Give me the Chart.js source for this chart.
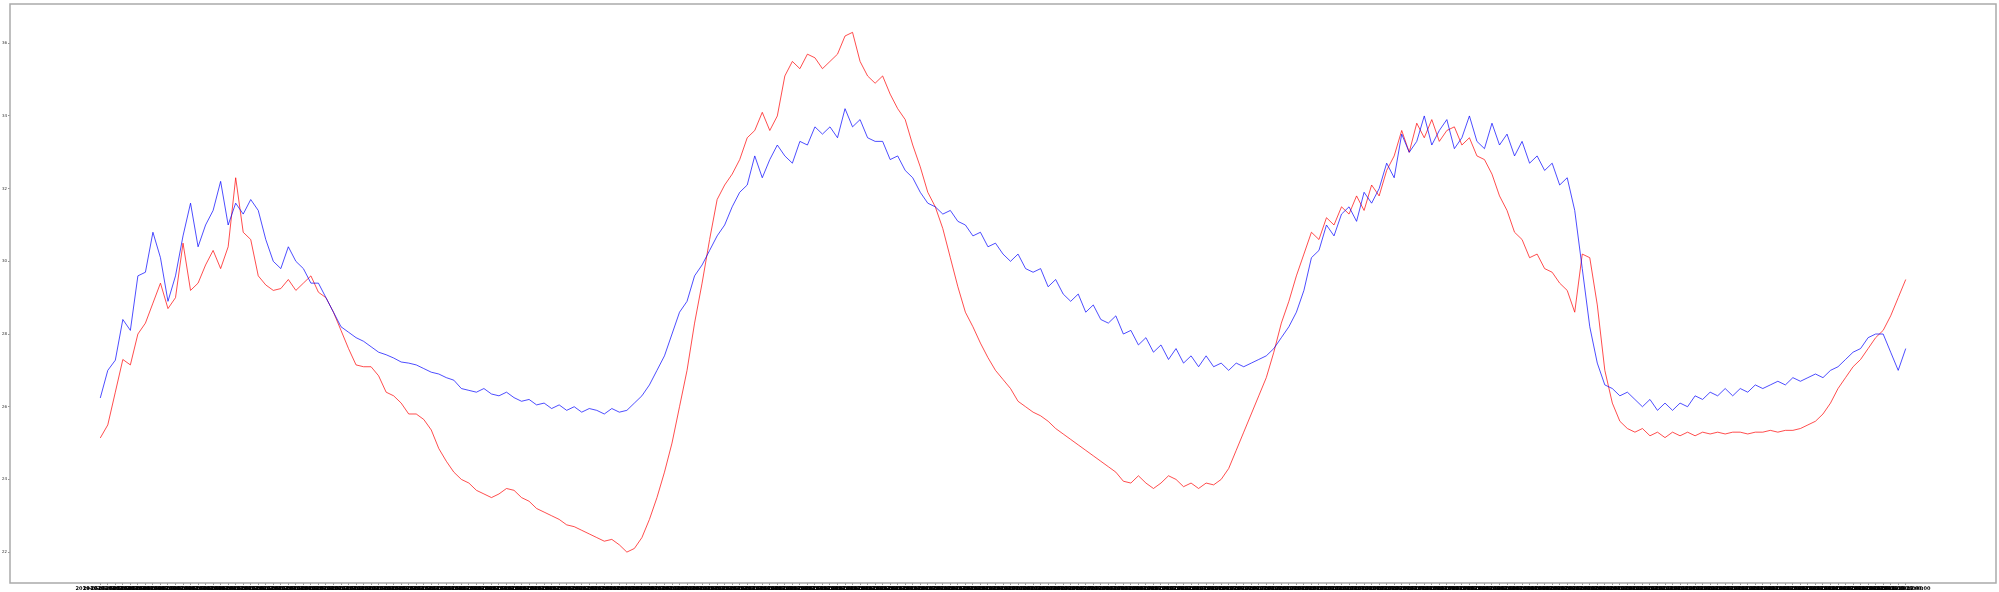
<!DOCTYPE html>
<html>
<head>
<meta charset="utf-8">
<script src="https://cdn.jsdelivr.net/npm/chart.js@4.4.1/dist/chart.umd.min.js"></script>
<style>
  html, body { margin: 0; padding: 0; background: #fff; }
  #wrap { width: 1999px; height: 592px; }
</style>
</head>
<body>
<div id="wrap"><canvas id="lineChart"></canvas></div>
<script>
// readings, one value per sample
const blueValues = [
  26.24, 27.0, 27.28, 28.4, 28.1, 29.6, 29.7, 30.8, 30.1, 28.9,
  29.6, 30.7, 31.6, 30.4, 31.0, 31.4, 32.2, 31.0, 31.6, 31.3,
  31.7, 31.4, 30.6, 30.0, 29.8, 30.4, 30.0, 29.8, 29.4, 29.4,
  29.0, 28.6, 28.2, 28.05, 27.9, 27.8, 27.65, 27.5, 27.43, 27.34,
  27.23, 27.2, 27.15, 27.05, 26.95, 26.9, 26.8, 26.73, 26.5, 26.45,
  26.4, 26.5, 26.35, 26.3, 26.4, 26.25, 26.15, 26.2, 26.05, 26.1,
  25.95, 26.05, 25.9, 26.0, 25.85, 25.95, 25.9, 25.8, 25.95, 25.85,
  25.9, 26.1, 26.3, 26.6, 27.0, 27.4, 28.0, 28.6, 28.9, 29.6,
  29.9, 30.3, 30.7, 31.0, 31.5, 31.9, 32.1, 32.9, 32.3, 32.8,
  33.2, 32.9, 32.7, 33.3, 33.2, 33.7, 33.5, 33.7, 33.4, 34.2,
  33.7, 33.9, 33.4, 33.3, 33.3, 32.8, 32.9, 32.5, 32.3, 31.9,
  31.6, 31.5, 31.3, 31.4, 31.1, 31.0, 30.7, 30.8, 30.4, 30.5,
  30.2, 30.0, 30.2, 29.8, 29.7, 29.8, 29.3, 29.5, 29.1, 28.9,
  29.1, 28.6, 28.8, 28.4, 28.3, 28.5, 28.0, 28.1, 27.7, 27.9,
  27.5, 27.7, 27.3, 27.6, 27.2, 27.4, 27.1, 27.4, 27.1, 27.2,
  27.0, 27.2, 27.1, 27.2, 27.3, 27.4, 27.6, 27.9, 28.2, 28.6,
  29.2, 30.1, 30.3, 31.0, 30.7, 31.3, 31.5, 31.1, 31.9, 31.6,
  32.0, 32.7, 32.3, 33.5, 33.0, 33.3, 34.0, 33.2, 33.6, 33.9,
  33.1, 33.4, 34.0, 33.3, 33.1, 33.8, 33.2, 33.5, 32.9, 33.3,
  32.7, 32.9, 32.5, 32.7, 32.1, 32.3, 31.4, 29.8, 28.2, 27.2,
  26.6, 26.5, 26.3, 26.4, 26.2, 26.0, 26.2, 25.9, 26.1, 25.9,
  26.1, 26.0, 26.3, 26.2, 26.4, 26.3, 26.5, 26.3, 26.5, 26.4,
  26.6, 26.5, 26.6, 26.7, 26.6, 26.8, 26.7, 26.8, 26.9, 26.8,
  27.0, 27.1, 27.3, 27.5, 27.6, 27.9, 28.0, 28.0, 27.5, 27.0,
  27.6
];

const redValues = [
  25.14, 25.5, 26.4, 27.3, 27.15, 28.0, 28.3, 28.85, 29.4, 28.7,
  29.0, 30.5, 29.2, 29.4, 29.9, 30.3, 29.8, 30.4, 32.3, 30.8,
  30.6, 29.6, 29.35, 29.2, 29.25, 29.5, 29.2, 29.4, 29.6, 29.15,
  29.0, 28.6, 28.1, 27.6, 27.15, 27.1, 27.1, 26.85, 26.4, 26.3,
  26.1, 25.8, 25.8, 25.65, 25.36, 24.85, 24.5, 24.2, 24.0, 23.9,
  23.7, 23.6, 23.5, 23.6, 23.75, 23.7, 23.5, 23.4, 23.2, 23.1,
  23.0, 22.9, 22.75, 22.7, 22.6, 22.5, 22.4, 22.3, 22.35, 22.2,
  22.0, 22.1, 22.4, 22.9, 23.5, 24.2, 25.0, 26.0, 27.0, 28.3,
  29.4, 30.6, 31.7, 32.1, 32.4, 32.8, 33.4, 33.6, 34.1, 33.6,
  34.0, 35.1, 35.5, 35.3, 35.7, 35.6, 35.3, 35.5, 35.7, 36.2,
  36.3, 35.5, 35.1, 34.9, 35.1, 34.6, 34.2, 33.9, 33.2, 32.6,
  31.9, 31.5, 30.9, 30.1, 29.3, 28.6, 28.2, 27.75, 27.35, 27.0,
  26.75, 26.5, 26.15, 26.0, 25.85, 25.75, 25.6, 25.4, 25.25, 25.1,
  24.95, 24.8, 24.65, 24.5, 24.35, 24.2, 23.95, 23.9, 24.1, 23.9,
  23.75, 23.9, 24.1, 24.0, 23.8, 23.9, 23.75, 23.9, 23.85, 24.0,
  24.3, 24.8, 25.3, 25.8, 26.3, 26.8, 27.5, 28.3, 28.9, 29.6,
  30.2, 30.8, 30.6, 31.2, 31.0, 31.5, 31.3, 31.8, 31.4, 32.1,
  31.8, 32.5, 32.9, 33.6, 33.0, 33.8, 33.4, 33.9, 33.3, 33.6,
  33.7, 33.2, 33.4, 32.9, 32.8, 32.4, 31.8, 31.4, 30.8, 30.6,
  30.1, 30.2, 29.8, 29.7, 29.4, 29.2, 28.6, 30.2, 30.1, 28.8,
  27.0, 26.1, 25.6, 25.4, 25.3, 25.4, 25.2, 25.3, 25.15, 25.3,
  25.2, 25.3, 25.2, 25.3, 25.25, 25.3, 25.25, 25.3, 25.3, 25.25,
  25.3, 25.3, 25.35, 25.3, 25.35, 25.35, 25.4, 25.5, 25.6, 25.8,
  26.1, 26.5, 26.8, 27.1, 27.3, 27.6, 27.9, 28.1, 28.5, 29.0,
  29.5
];

const yTicks = [22, 24, 26, 28, 30, 32, 34, 36];

// one timestamp label per sample (they overlap into a solid strip, as in the figure)
const xLabels = [];
const start = Date.UTC(2019, 4, 1);
for (let i = 0; i < blueValues.length; i++) {
    const d = new Date(start + i * 12 * 3600 * 1000);
    xLabels.push(d.toISOString().slice(0, 16).replace('T', ' '));
}

const n = xLabels.length - 1;

// frame around the plot area
const frame = {
    id: 'frame',
    beforeDatasetsDraw(chart) {
        const { ctx, chartArea: a } = chart;
        ctx.save();
        ctx.strokeStyle = '#aaaaaa';
        ctx.lineWidth = 1.5;
        ctx.strokeRect(a.left, a.top, a.right - a.left, a.bottom - a.top);
        ctx.restore();
    }
};

const ctx = document.getElementById('lineChart').getContext('2d');

new Chart(ctx, {
    type: 'line',
    data: {
        datasets: [{
            label: 'blue',
            data: blueValues.map((v, i) => ({ x: i, y: v })),
            borderColor: '#0000ff',
            borderWidth: 0.7,
            pointRadius: 0,
            tension: 0
        }, {
            label: 'red',
            data: redValues.map((v, i) => ({ x: i, y: v })),
            borderColor: '#ff0000',
            borderWidth: 0.7,
            pointRadius: 0,
            tension: 0
        }]
    },
    options: {
        responsive: true,
        maintainAspectRatio: false,
        animation: false,
        elements: { line: { borderWidth: 0.7 } },
        layout: { padding: { top: 4, right: 3, left: 0, bottom: 0 } },
        plugins: {
            legend: { display: false },
            tooltip: { enabled: false }
        },
        scales: {
            x: {
                type: 'linear',
                min: -0.05 * n,
                max: 1.05 * n,
                afterBuildTicks: (s) => { s.ticks = xLabels.map((_, i) => ({ value: i })); },
                afterFit: (s) => { s.height = 9; },
                ticks: {
                    autoSkip: false,
                    maxRotation: 0,
                    minRotation: 0,
                    padding: 1,
                    color: '#000',
                    font: { size: 5, weight: 'bold', family: 'DejaVu Sans' },
                    callback: (v) => xLabels[v]
                },
                grid: { drawOnChartArea: false, drawTicks: true, tickLength: 2, color: '#999' },
                border: { display: false }
            },
            y: {
                min: 21.15,
                max: 37.08,
                afterBuildTicks: (s) => { s.ticks = yTicks.map(v => ({ value: v })); },
                afterFit: (s) => { s.width = 10; },
                ticks: {
                    padding: 1,
                    color: '#333',
                    font: { size: 4, family: 'DejaVu Sans' }
                },
                grid: { drawOnChartArea: false, drawTicks: true, tickLength: 2, color: '#999' },
                border: { display: false }
            }
        }
    },
    plugins: [frame]
});
</script>
</body>
</html>
